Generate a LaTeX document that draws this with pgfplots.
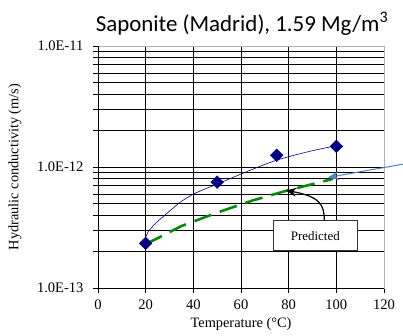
\documentclass[border=0pt]{standalone}
\usepackage{fontspec}
\setmainfont{Liberation Serif}
\newfontfamily\titlefont{Carlito}
\usepackage{pgfplots}
\pgfplotsset{compat=1.18}
\usetikzlibrary{arrows.meta}
\definecolor{navyd}{RGB}{0,0,128}
\definecolor{greend}{RGB}{10,135,10}
\definecolor{arrblue}{RGB}{79,129,200}

\pgfplotstableread{
x y
20 2.34e-13
50 7.5e-13
75 1.25e-12
100 1.48e-12
}\measured

\pgfplotstableread{
x y
20 2.62e-13
21 2.9e-13
24 3.4e-13
28.8 4.12e-13
35 5.2e-13
41.4 6.15e-13
49.8 7.2e-13
62.4 9.15e-13
75 1.14e-12
89 1.35e-12
100 1.5e-12
}\fit

\pgfplotstableread{
x y
20 2.3e-13
35 3.25e-13
50 4.2e-13
65 5.3e-13
79 6.36e-13
98.5 7.97e-13
}\predicted

\begin{document}
\begin{tikzpicture}[x=1bp,y=1bp]
\useasboundingbox (0,0) rectangle (403,336);
\begin{axis}[
  at={(98bp,48bp)}, anchor=south west,
  scale only axis, width=286bp, height=242bp,
  ymode=log, xmin=0, xmax=120, ymin=1e-13, ymax=1e-11,
  xtick={0,20,...,120},
  ytick={1e-13,1e-12,1e-11},
  yticklabels={1.0E-13,1.0E-12,1.0E-11},
  minor ytick={2e-13,3e-13,4e-13,5e-13,6e-13,7e-13,8e-13,9e-13,2e-12,3e-12,4e-12,5e-12,6e-12,7e-12,8e-12,9e-12},
  grid=both,
  major grid style={black, line width=0.7pt},
  minor grid style={black, line width=0.6pt},
  tick align=outside,
  major tick length=5bp, minor tick length=5bp,
  tick style={black, line width=0.6pt},
  xtick pos=bottom, ytick pos=left,
  axis line style={draw=gray!60, line width=0.8pt},
  /pgf/number format/assume math mode=true,
  tick label style={font=\fontsize{14.6}{17}\selectfont},
  yticklabel style={anchor=east, xshift=-6bp},
  xticklabel style={anchor=north, yshift=-3bp},
  xlabel={Temperature (°C)},
  ylabel={Hydraulic conductivity (m/s)},
  label style={font=\fontsize{14.4}{17}\selectfont},
  xlabel style={at={(axis description cs:0.5,-0.149)}, anchor=center},
  ylabel style={at={(axis description cs:-0.29,0.5)}, anchor=center, rotate=0},
  clip=false,
]
\addplot[navyd, line width=0.6pt, smooth, no marks] table[x=x,y=y] {\fit};
\addplot[greend, line width=2.6pt, dash pattern=on 18bp off 9bp, no marks] table[x=x,y=y] {\predicted};
\addplot[only marks, mark=square*, mark size=4.5bp, mark options={rotate=45, navyd, fill=navyd}] table[x=x,y=y] {\measured};
\draw[black, line width=0.8pt] (rel axis cs:0,0) -- (rel axis cs:0,1);
\draw[black, line width=0.8pt] (rel axis cs:0,0) -- (rel axis cs:1,0);
% annotations
\node[draw=black!80, fill=white, line width=0.8pt, minimum width=84bp, minimum height=30bp, inner sep=0pt, font=\fontsize{13}{15}\selectfont] (pb) at (axis cs:91.2,2.7e-13) {Predicted};
\draw[black, line width=1.2pt, -{Stealth[length=10bp,width=9bp]}] ([xshift=9bp]pb.north) .. controls ([xshift=9bp,yshift=16bp]pb.north) and ([xshift=4bp,yshift=24bp]pb.north) .. (axis cs:79,6.4e-13);
\draw[arrblue, line width=1pt, -{Stealth[length=11bp,width=9bp]}] (axis cs:128.5,1.06e-12) -- (axis cs:96.5,8.2e-13);
\end{axis}
\node[font=\titlefont\fontsize{23}{27}\selectfont, anchor=base] at (242,305) {Saponite (Madrid), 1.59 Mg/m\textsuperscript{3}};
\end{tikzpicture}
\end{document}
